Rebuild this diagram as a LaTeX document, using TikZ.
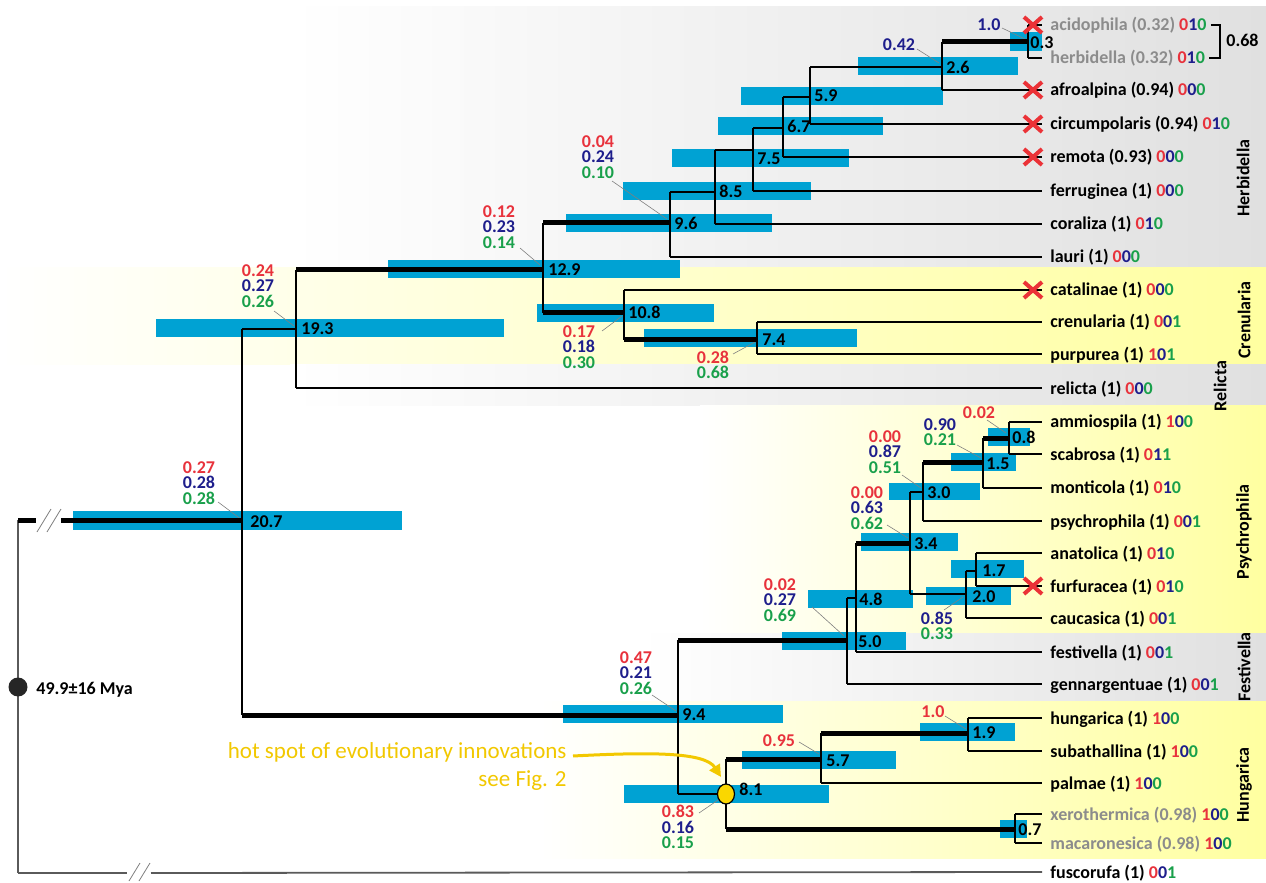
\documentclass[tikz,border=0pt]{standalone}
\usepackage{fontspec}
\setmainfont{Carlito}
\usetikzlibrary{arrows.meta}
\definecolor{barblue}{RGB}{0,162,211}
\definecolor{cred}{RGB}{232,50,60}
\definecolor{cnavy}{RGB}{30,30,140}
\definecolor{cgreen}{RGB}{25,160,75}
\definecolor{tgray}{RGB}{140,140,140}
\definecolor{bandgray}{RGB}{224,224,224}
\definecolor{bandyellow}{RGB}{255,255,160}
\definecolor{gold}{RGB}{242,200,0}
\definecolor{xred}{RGB}{235,50,55}
\definecolor{rootgray}{RGB}{90,90,90}
\newcommand\cd[3]{\textcolor{cred}{#1}\textcolor{cnavy}{#2}\textcolor{cgreen}{#3}}
\newcommand\hb[3][br]{\draw[#1] (#2 |- #3) -- (#3);}
\newcommand\vb[3]{\draw[br] (#1 |- #2) -- (#1 |- #3);}
\tikzset{
 tip/.style={anchor=west, inner sep=0pt, text height=6pt, text depth=0pt, font=\bfseries\fontsize{9}{10}\selectfont},
 agelab/.style={anchor=west, inner sep=0pt, text height=6pt, text depth=0pt, font=\bfseries\fontsize{9}{10}\selectfont},
 supp/.style={inner sep=0pt, align=center, font=\bfseries\fontsize{9}{7.8}\selectfont},
 bar/.style={fill=barblue, draw=none},
 br/.style={line width=0.65pt, black},
 thk/.style={line width=2.5pt, black},
 lead/.style={line width=0.3pt, gray},
 xmark/.style={xred, line width=2pt},
 clade/.style={rotate=90, inner sep=0pt, font=\bfseries\fontsize{9}{10}\selectfont}
}
\begin{document}
\begin{tikzpicture}[x=0.5pt,y=-0.5pt]
\useasboundingbox (0,0) rectangle (1266,883);
\fill[white] (0,0) rectangle (1266,883);
% bands
\shade[left color=white, right color=bandgray] (290,7) rectangle (1266,268);
\shade[left color=white, right color=bandyellow] (0,268) rectangle (1266,365);
\shade[left color=white, right color=bandgray] (290,365) rectangle (1266,405);
\shade[left color=white, right color=bandyellow] (700,405) rectangle (1266,633);
\shade[left color=white, right color=bandgray] (640,633) rectangle (1266,701);
\shade[left color=white, right color=bandyellow] (540,701) rectangle (1266,858);
% bars
\fill[bar] (73,511) rectangle (402,530);
\fill[bar] (156,319) rectangle (504,337);
\fill[bar] (388,260) rectangle (680,278);
\fill[bar] (566,214) rectangle (772,232);
\fill[bar] (623,182) rectangle (811,200);
\fill[bar] (672,149) rectangle (849,167);
\fill[bar] (718,117) rectangle (883,135);
\fill[bar] (741,87) rectangle (943,105);
\fill[bar] (858,57) rectangle (1018,75);
\fill[bar] (1010,32) rectangle (1042,51);
\fill[bar] (537,304) rectangle (714,322);
\fill[bar] (644,329) rectangle (857,347);
\fill[bar] (563,705) rectangle (783,723);
\fill[bar] (782,632) rectangle (906,650);
\fill[bar] (808,590) rectangle (913,608);
\fill[bar] (861,533) rectangle (958,551);
\fill[bar] (889,483) rectangle (980,500);
\fill[bar] (951,453) rectangle (1016,471);
\fill[bar] (988,428) rectangle (1030,446);
\fill[bar] (926,587) rectangle (1011,605);
\fill[bar] (951,560) rectangle (1024,578);
\fill[bar] (624,785) rectangle (829,803);
\fill[bar] (742,751) rectangle (896,769);
\fill[bar] (920,723) rectangle (1015,741);
\fill[bar] (1000,820) rectangle (1027,838);
% internal nodes
\coordinate (n207) at (242,520);
\coordinate (n193) at (296,329);
\coordinate (n129) at (543,270);
\coordinate (n96) at (670,223);
\coordinate (n85) at (715,192);
\coordinate (n75) at (753,150);
\coordinate (n67) at (783,128);
\coordinate (n59) at (810,97);
\coordinate (n26) at (942,67);
\coordinate (n03) at (1028,42);
\coordinate (n108) at (624,313);
\coordinate (n74) at (757,340);
\coordinate (n94) at (678,715);
\coordinate (n50) at (847,640);
\coordinate (n48) at (856,598);
\coordinate (n34) at (910,543);
\coordinate (n30) at (923,492);
\coordinate (n15) at (983,462);
\coordinate (n08) at (1009,438);
\coordinate (n20) at (966,594);
\coordinate (n17) at (976,571);
\coordinate (n81) at (726,794);
\coordinate (n57) at (821,759);
\coordinate (n19) at (968,733);
\coordinate (n07) at (1015,829);
\coordinate (root) at (18,687);
% tips
\coordinate (acid) at (1042,25);
\coordinate (herb) at (1042,58);
\coordinate (afro) at (1042,90);
\coordinate (circ) at (1042,124);
\coordinate (remo) at (1042,157);
\coordinate (ferr) at (1042,191);
\coordinate (cora) at (1042,224);
\coordinate (laur) at (1042,257);
\coordinate (cata) at (1042,290);
\coordinate (cren) at (1042,322);
\coordinate (purp) at (1042,354);
\coordinate (reli) at (1042,388);
\coordinate (ammi) at (1042,422);
\coordinate (scab) at (1042,454);
\coordinate (mont) at (1042,488);
\coordinate (psyc) at (1042,521);
\coordinate (anat) at (1042,553);
\coordinate (furf) at (1042,586);
\coordinate (cauc) at (1042,618);
\coordinate (fest) at (1042,652);
\coordinate (genn) at (1042,684);
\coordinate (hung) at (1042,718);
\coordinate (suba) at (1042,751);
\coordinate (palm) at (1042,783);
\coordinate (xero) at (1042,814);
\coordinate (maca) at (1042,843);
\coordinate (fusc) at (1042,872);
% leader lines
\draw[lead] (218,502) -- (n207);
\draw[lead] (274,311) -- (294,326);
\draw[lead] (520,248) -- (540,265);
\draw[lead] (612,181) -- (667,219);
\draw[lead] (602,331) -- (622,316);
\draw[lead] (733,354) -- (755,342);
\draw[lead] (917,49) -- (939,63);
\draw[lead] (1002,28) -- (1025,39);
\draw[lead] (652,695) -- (676,711);
\draw[lead] (812,607) -- (844,636);
\draw[lead] (887,525) -- (908,538);
\draw[lead] (902,475) -- (921,488);
\draw[lead] (957,445) -- (981,458);
\draw[lead] (987,420) -- (1006,433);
\draw[lead] (944,610) -- (963,597);
\draw[lead] (699,813) -- (721,798);
\draw[lead] (799,742) -- (819,754);
\draw[lead] (945,716) -- (966,729);
% root and breaks
\draw[line width=0.65pt, rootgray] (18,520) -- (root) -- (18,873);
\draw[thk] (18,520) -- (36,520);
\draw[line width=0.4pt, gray] (37,532) -- (51,509) (47,532) -- (61,509);
\draw[thk] (61,520) -- (n207);
\draw[line width=0.9pt, rootgray] (18,873) -- (127,873);
\draw[line width=0.4pt, gray] (129,881) -- (140,863) (139,881) -- (150,863);
\draw[line width=0.9pt, rootgray] (151,873) -- (fusc);
% verticals
\vb{n207}{n193}{n94}
\vb{n193}{n129}{reli}
\vb{n129}{n96}{n108}
\vb{n96}{n85}{laur}
\vb{n85}{n75}{cora}
\vb{n75}{n67}{ferr}
\vb{n67}{n59}{remo}
\vb{n59}{n26}{circ}
\vb{n26}{n03}{afro}
\vb{n03}{acid}{herb}
\vb{n108}{cata}{n74}
\vb{n74}{cren}{purp}
\vb{n94}{n50}{n81}
\vb{n50}{n48}{genn}
\vb{n48}{n34}{fest}
\vb{n34}{n30}{n20}
\vb{n30}{n15}{psyc}
\vb{n15}{n08}{mont}
\vb{n08}{ammi}{scab}
\vb{n20}{n17}{cauc}
\vb{n17}{anat}{furf}
\vb{n81}{n57}{n07}
\vb{n57}{n19}{palm}
\vb{n19}{hung}{suba}
\vb{n07}{xero}{maca}
% horizontals
\hb{n207}{n193}
\hb[thk]{n207}{n94}
\hb[thk]{n193}{n129}
\hb{n193}{reli}
\hb[thk]{n129}{n96}
\hb[thk]{n129}{n108}
\hb{n96}{n85}
\hb{n96}{laur}
\hb{n85}{n75}
\hb{n85}{cora}
\hb{n75}{n67}
\hb{n75}{ferr}
\hb{n67}{n59}
\hb{n67}{remo}
\hb{n59}{n26}
\hb{n59}{circ}
\hb[thk]{n26}{n03}
\hb{n26}{afro}
\hb{n03}{acid}
\hb{n03}{herb}
\hb{n108}{cata}
\hb[thk]{n108}{n74}
\hb{n74}{cren}
\hb{n74}{purp}
\hb[thk]{n94}{n50}
\hb{n94}{n81}
\hb{n50}{n48}
\hb{n50}{genn}
\hb[thk]{n48}{n34}
\hb{n48}{fest}
\hb{n34}{n30}
\hb{n34}{n20}
\hb[thk]{n30}{n15}
\hb{n30}{psyc}
\hb[thk]{n15}{n08}
\hb{n15}{mont}
\hb{n08}{ammi}
\hb{n08}{scab}
\hb{n20}{n17}
\hb{n20}{cauc}
\hb{n17}{anat}
\hb{n17}{furf}
\hb[thk]{n81}{n57}
\hb[thk]{n81}{n07}
\hb[thk]{n57}{n19}
\hb{n57}{palm}
\hb{n19}{hung}
\hb{n19}{suba}
\hb{n07}{xero}
\hb{n07}{maca}
% dots
\fill[black!85] (root) circle (9.5);
\node[agelab] (lroot) at (36,688) {49.9±16 Mya};
\draw[fill={rgb,255:red,250;green,215;blue,0}, line width=0.6pt] (n81) ellipse (8.5 and 10);
% age labels
\node[agelab] (a207) at (250,521) {20.7};
\node[agelab] (a193) at (301,329) {19.3};
\node[agelab] (a129) at (548,270) {12.9};
\node[agelab] (a96) at (674,224) {9.6};
\node[agelab] (a85) at (719,192) {8.5};
\node[agelab] (a75) at (757,159) {7.5};
\node[agelab] (a67) at (787,127) {6.7};
\node[agelab] (a59) at (814,96) {5.9};
\node[agelab] (a26) at (946,68) {2.6};
\node[agelab] (a03) at (1030,43) {0.3};
\node[agelab] (a108) at (628,313) {10.8};
\node[agelab] (a74) at (762,339) {7.4};
\node[agelab] (a94) at (682,714) {9.4};
\node[agelab] (a50) at (858,641) {5.0};
\node[agelab] (a48) at (859,599) {4.8};
\node[agelab] (a34) at (914,543) {3.4};
\node[agelab] (a30) at (927,492) {3.0};
\node[agelab] (a15) at (986,463) {1.5};
\node[agelab] (a08) at (1012,438) {0.8};
\node[agelab] (a20) at (972,596) {2.0};
\node[agelab] (a17) at (982,570) {1.7};
\node[agelab] (a81) at (739,789) {8.1};
\node[agelab] (a57) at (826,760) {5.7};
\node[agelab] (a19) at (972,732) {1.9};
\node[agelab] (a07) at (1018,829) {0.7};
% support values
\node[supp] (s207) at (199,483) {\textcolor{cred}{0.27}\\\textcolor{cnavy}{0.28}\\\textcolor{cgreen}{0.28}};
\node[supp] (s193) at (258,286) {\textcolor{cred}{0.24}\\\textcolor{cnavy}{0.27}\\\textcolor{cgreen}{0.26}};
\node[supp] (s129) at (499,227) {\textcolor{cred}{0.12}\\\textcolor{cnavy}{0.23}\\\textcolor{cgreen}{0.14}};
\node[supp] (s96) at (598,157) {\textcolor{cred}{0.04}\\\textcolor{cnavy}{0.24}\\\textcolor{cgreen}{0.10}};
\node[supp] (s108) at (579,347) {\textcolor{cred}{0.17}\\\textcolor{cnavy}{0.18}\\\textcolor{cgreen}{0.30}};
\node[supp] (s74) at (713,365) {\textcolor{cred}{0.28}\\\textcolor{cgreen}{0.68}};
\node[supp] (s26) at (899,45) {\textcolor{cnavy}{0.42}};
\node[supp] (s03) at (989,25) {\textcolor{cnavy}{1.0}};
\node[supp] (s94) at (636,673) {\textcolor{cred}{0.47}\\\textcolor{cnavy}{0.21}\\\textcolor{cgreen}{0.26}};
\node[supp] (s50) at (780,600) {\textcolor{cred}{0.02}\\\textcolor{cnavy}{0.27}\\\textcolor{cgreen}{0.69}};
\node[supp] (s34) at (867,508) {\textcolor{cred}{0.00}\\\textcolor{cnavy}{0.63}\\\textcolor{cgreen}{0.62}};
\node[supp] (s30) at (885,452) {\textcolor{cred}{0.00}\\\textcolor{cnavy}{0.87}\\\textcolor{cgreen}{0.51}};
\node[supp] (s15) at (940,432) {\textcolor{cnavy}{0.90}\\\textcolor{cgreen}{0.21}};
\node[supp] (s08) at (979,413) {\textcolor{cred}{0.02}};
\node[supp] (s20) at (937,626) {\textcolor{cnavy}{0.85}\\\textcolor{cgreen}{0.33}};
\node[supp] (s81) at (678,827) {\textcolor{cred}{0.83}\\\textcolor{cnavy}{0.16}\\\textcolor{cgreen}{0.15}};
\node[supp] (s57) at (779,741) {\textcolor{cred}{0.95}};
\node[supp] (s19) at (933,712) {\textcolor{cred}{1.0}};
% tip labels
\node[tip] (l1) at (1050,25) {\textcolor{tgray}{acidophila (0.32)} \cd010};
\node[tip] (l2) at (1050,58) {\textcolor{tgray}{herbidella (0.32)} \cd010};
\node[tip] (l3) at (1050,90) {afroalpina (0.94) \cd000};
\node[tip] (l4) at (1050,124) {circumpolaris (0.94) \cd010};
\node[tip] (l5) at (1050,157) {remota (0.93) \cd000};
\node[tip] (l6) at (1050,191) {ferruginea (1) \cd000};
\node[tip] (l7) at (1050,224) {coraliza (1) \cd010};
\node[tip] (l8) at (1050,257) {lauri (1) \cd000};
\node[tip] (l9) at (1050,290) {catalinae (1) \cd000};
\node[tip] (l10) at (1050,322) {crenularia (1) \cd001};
\node[tip] (l11) at (1050,354) {purpurea (1) \cd101};
\node[tip] (l12) at (1050,388) {relicta (1) \cd000};
\node[tip] (l13) at (1050,422) {ammiospila (1) \cd100};
\node[tip] (l14) at (1050,454) {scabrosa (1) \cd011};
\node[tip] (l15) at (1050,488) {monticola (1) \cd010};
\node[tip] (l16) at (1050,521) {psychrophila (1) \cd001};
\node[tip] (l17) at (1050,553) {anatolica (1) \cd010};
\node[tip] (l18) at (1050,586) {furfuracea (1) \cd010};
\node[tip] (l19) at (1050,618) {caucasica (1) \cd001};
\node[tip] (l20) at (1050,652) {festivella (1) \cd001};
\node[tip] (l21) at (1050,684) {gennargentuae (1) \cd001};
\node[tip] (l22) at (1050,718) {hungarica (1) \cd100};
\node[tip] (l23) at (1050,751) {subathallina (1) \cd100};
\node[tip] (l24) at (1050,783) {palmae (1) \cd100};
\node[tip] (l25) at (1050,814) {\textcolor{tgray}{xerothermica (0.98)} \cd100};
\node[tip] (l26) at (1050,843) {\textcolor{tgray}{macaronesica (0.98)} \cd100};
\node[tip] (l27) at (1050,872) {fuscorufa (1) \cd001};
% bracket 0.68
\coordinate (bk1) at (1220,25);
\coordinate (bk2) at (1220,58);
\draw[br] ([xshift=2pt]l1.east) -- (bk1) -- (bk2) -- ([xshift=2pt]l2.east |- bk2);
\node[agelab] (b68) at (1226,41) {0.68};
% extinction marks
\foreach \yy in {25,90,124,157,290,586}
  \draw[xmark] (1024,\yy-8) -- (1042,\yy+8) (1024,\yy+8) -- (1042,\yy-8);
% clade labels
\node[clade] (cH) at (1243,178) {Herbidella};
\node[clade] (cC) at (1244,320) {Crenularia};
\node[clade] (cR) at (1220,386) {Relicta};
\node[clade] (cP) at (1244,532) {Psychrophila};
\node[clade] (cF) at (1244,667) {Festivella};
\node[clade] (cHu) at (1244,785) {Hungarica};
% hot spot
\node[anchor=east, inner sep=0pt, text=gold, font=\fontsize{11.5}{12}\selectfont] (hs) at (567,752) {hot spot of evolutionary innovations};
\node[anchor=east, inner sep=0pt, text=gold, font=\fontsize{11.5}{12}\selectfont] (hs2) at (567,781) {see Fig. 2};
\coordinate (ahead) at (721,777);
\draw[gold, line width=1.5pt, -{Triangle[length=6pt,width=6pt]}] ([xshift=3pt,yshift=-2pt]hs.east) .. controls (650,752) and (705,752) .. (ahead);
\end{tikzpicture}
\end{document}
